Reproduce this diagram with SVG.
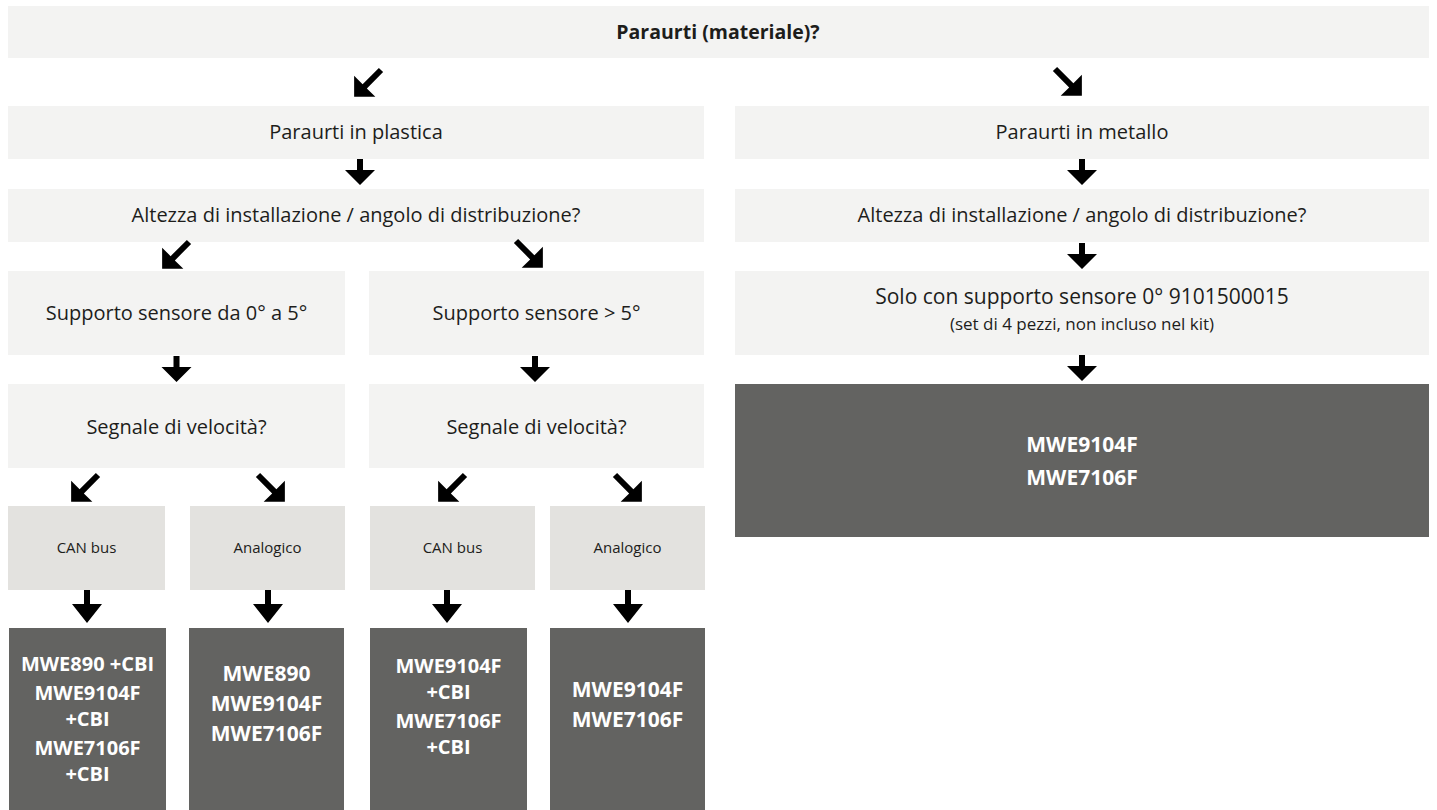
<svg xmlns="http://www.w3.org/2000/svg" width="1437" height="810" viewBox="0 0 1437 810">
<defs>
<style>
.lt{fill:#f3f3f2}
.md{fill:#e3e2df}
.dk{fill:#636361}
.t{font-family:"Open Sans","Liberation Sans",sans-serif;font-size:20px;fill:#1d1d1b;text-anchor:middle}
.tl{font-family:"Open Sans","Liberation Sans",sans-serif;font-size:21px;fill:#1d1d1b;text-anchor:middle}
.ts{font-family:"Open Sans","Liberation Sans",sans-serif;font-size:17px;fill:#1d1d1b;text-anchor:middle}
.tc{font-family:"Open Sans","Liberation Sans",sans-serif;font-size:15px;fill:#1d1d1b;text-anchor:middle}
.tb{font-family:"Open Sans","Liberation Sans",sans-serif;font-size:19.5px;font-weight:bold;fill:#1d1d1b;text-anchor:middle}
.tw{font-family:"Open Sans","Liberation Sans",sans-serif;font-size:21px;font-weight:bold;fill:#ffffff;text-anchor:middle}
.tw2{font-family:"Open Sans","Liberation Sans",sans-serif;font-size:20px;font-weight:bold;fill:#ffffff;text-anchor:middle}
.ar{fill:#000000}
</style>
<path id="av" d="M-3,0 H3 V11 H15 L0,26 L-15,11 H-3 Z"/>
<path id="avl" d="M-3,0 H3 V14 H15 L0,33 L-15,14 H-3 Z"/>
<path id="ad" d="M-3,0 H3 V23 H15 L0,38 L-15,23 H-3 Z"/>
</defs>
<rect width="1437" height="810" fill="#ffffff"/>

<g id="n-title"><rect class="lt" x="8" y="6" width="1421" height="52"/><text class="tb" x="718" y="39">Paraurti (materiale)?</text></g>
<g id="n-plastica"><rect class="lt" x="8" y="106" width="696" height="53"/><text class="t" x="356" y="139">Paraurti in plastica</text></g>
<g id="n-metallo"><rect class="lt" x="735" y="106" width="694" height="53"/><text class="t" x="1082" y="139">Paraurti in metallo</text></g>
<g id="n-altezza-l"><rect class="lt" x="8" y="189" width="696" height="53"/><text class="t" x="356" y="222">Altezza di installazione / angolo di distribuzione?</text></g>
<g id="n-altezza-r"><rect class="lt" x="735" y="189" width="694" height="53"/><text class="t" x="1082" y="222">Altezza di installazione / angolo di distribuzione?</text></g>
<g id="n-supp05"><rect class="lt" x="8" y="271" width="337" height="84"/><text class="t" x="176.5" y="320">Supporto sensore da 0° a 5°</text></g>
<g id="n-supp5"><rect class="lt" x="369" y="271" width="335" height="84"/><text class="t" x="536.5" y="320">Supporto sensore &gt; 5°</text></g>
<g id="n-solo"><rect class="lt" x="735" y="271" width="694" height="84"/><text class="tl" x="1082" y="304">Solo con supporto sensore 0° 9101500015</text><text class="ts" x="1082" y="330">(set di 4 pezzi, non incluso nel kit)</text></g>
<g id="n-segnale-l"><rect class="lt" x="8" y="384" width="337" height="84"/><text class="t" x="176.5" y="434">Segnale di velocità?</text></g>
<g id="n-segnale-r"><rect class="lt" x="369" y="384" width="335" height="84"/><text class="t" x="536.5" y="434">Segnale di velocità?</text></g>
<g id="n-res-metallo"><rect class="dk" x="735" y="384" width="694" height="153"/><text class="tw" x="1082" y="452">MWE9104F</text><text class="tw" x="1082" y="485">MWE7106F</text></g>
<g id="n-can1"><rect class="md" x="8" y="506" width="157" height="84"/><text class="tc" x="86.5" y="553">CAN bus</text></g>
<g id="n-ana1"><rect class="md" x="190" y="506" width="155" height="84"/><text class="tc" x="267.5" y="553">Analogico</text></g>
<g id="n-can2"><rect class="md" x="370" y="506" width="165" height="84"/><text class="tc" x="452.5" y="553">CAN bus</text></g>
<g id="n-ana2"><rect class="md" x="550" y="506" width="155" height="84"/><text class="tc" x="627.5" y="553">Analogico</text></g>
<g id="n-res1"><rect class="dk" x="9" y="628" width="157" height="182"/><text class="tw2" x="87.5" y="671">MWE890 +CBI</text><text class="tw2" x="87.5" y="700">MWE9104F</text><text class="tw2" x="87.5" y="726">+CBI</text><text class="tw2" x="87.5" y="755">MWE7106F</text><text class="tw2" x="87.5" y="781">+CBI</text></g>
<g id="n-res2"><rect class="dk" x="189" y="628" width="155" height="182"/><text class="tw" x="266.5" y="681">MWE890</text><text class="tw" x="266.5" y="711">MWE9104F</text><text class="tw" x="266.5" y="741">MWE7106F</text></g>
<g id="n-res3"><rect class="dk" x="370" y="628" width="157" height="182"/><text class="tw2" x="448.5" y="673">MWE9104F</text><text class="tw2" x="448.5" y="699">+CBI</text><text class="tw2" x="448.5" y="728">MWE7106F</text><text class="tw2" x="448.5" y="754">+CBI</text></g>
<g id="n-res4"><rect class="dk" x="550" y="628" width="155" height="182"/><text class="tw" x="627.5" y="697">MWE9104F</text><text class="tw" x="627.5" y="727">MWE7106F</text></g>

<g id="connectors" class="ar">
<use href="#ad" transform="translate(381,70) rotate(45)"/>
<use href="#ad" transform="translate(1055,69) rotate(-45)"/>
<use href="#av" x="360" y="159"/>
<use href="#av" x="1082" y="159"/>
<use href="#ad" transform="translate(189,242) rotate(45)"/>
<use href="#ad" transform="translate(516,241) rotate(-45)"/>
<use href="#av" x="1082" y="243"/>
<use href="#av" x="176.5" y="356"/>
<use href="#av" x="535" y="356"/>
<use href="#av" x="1082" y="355"/>
<use href="#ad" transform="translate(98,475) rotate(45)"/>
<use href="#ad" transform="translate(258,475) rotate(-45)"/>
<use href="#ad" transform="translate(465,475) rotate(45)"/>
<use href="#ad" transform="translate(615,475) rotate(-45)"/>
<use href="#avl" x="87" y="590"/>
<use href="#avl" x="268" y="590"/>
<use href="#avl" x="447" y="590"/>
<use href="#avl" x="628" y="590"/>
</g>
</svg>
